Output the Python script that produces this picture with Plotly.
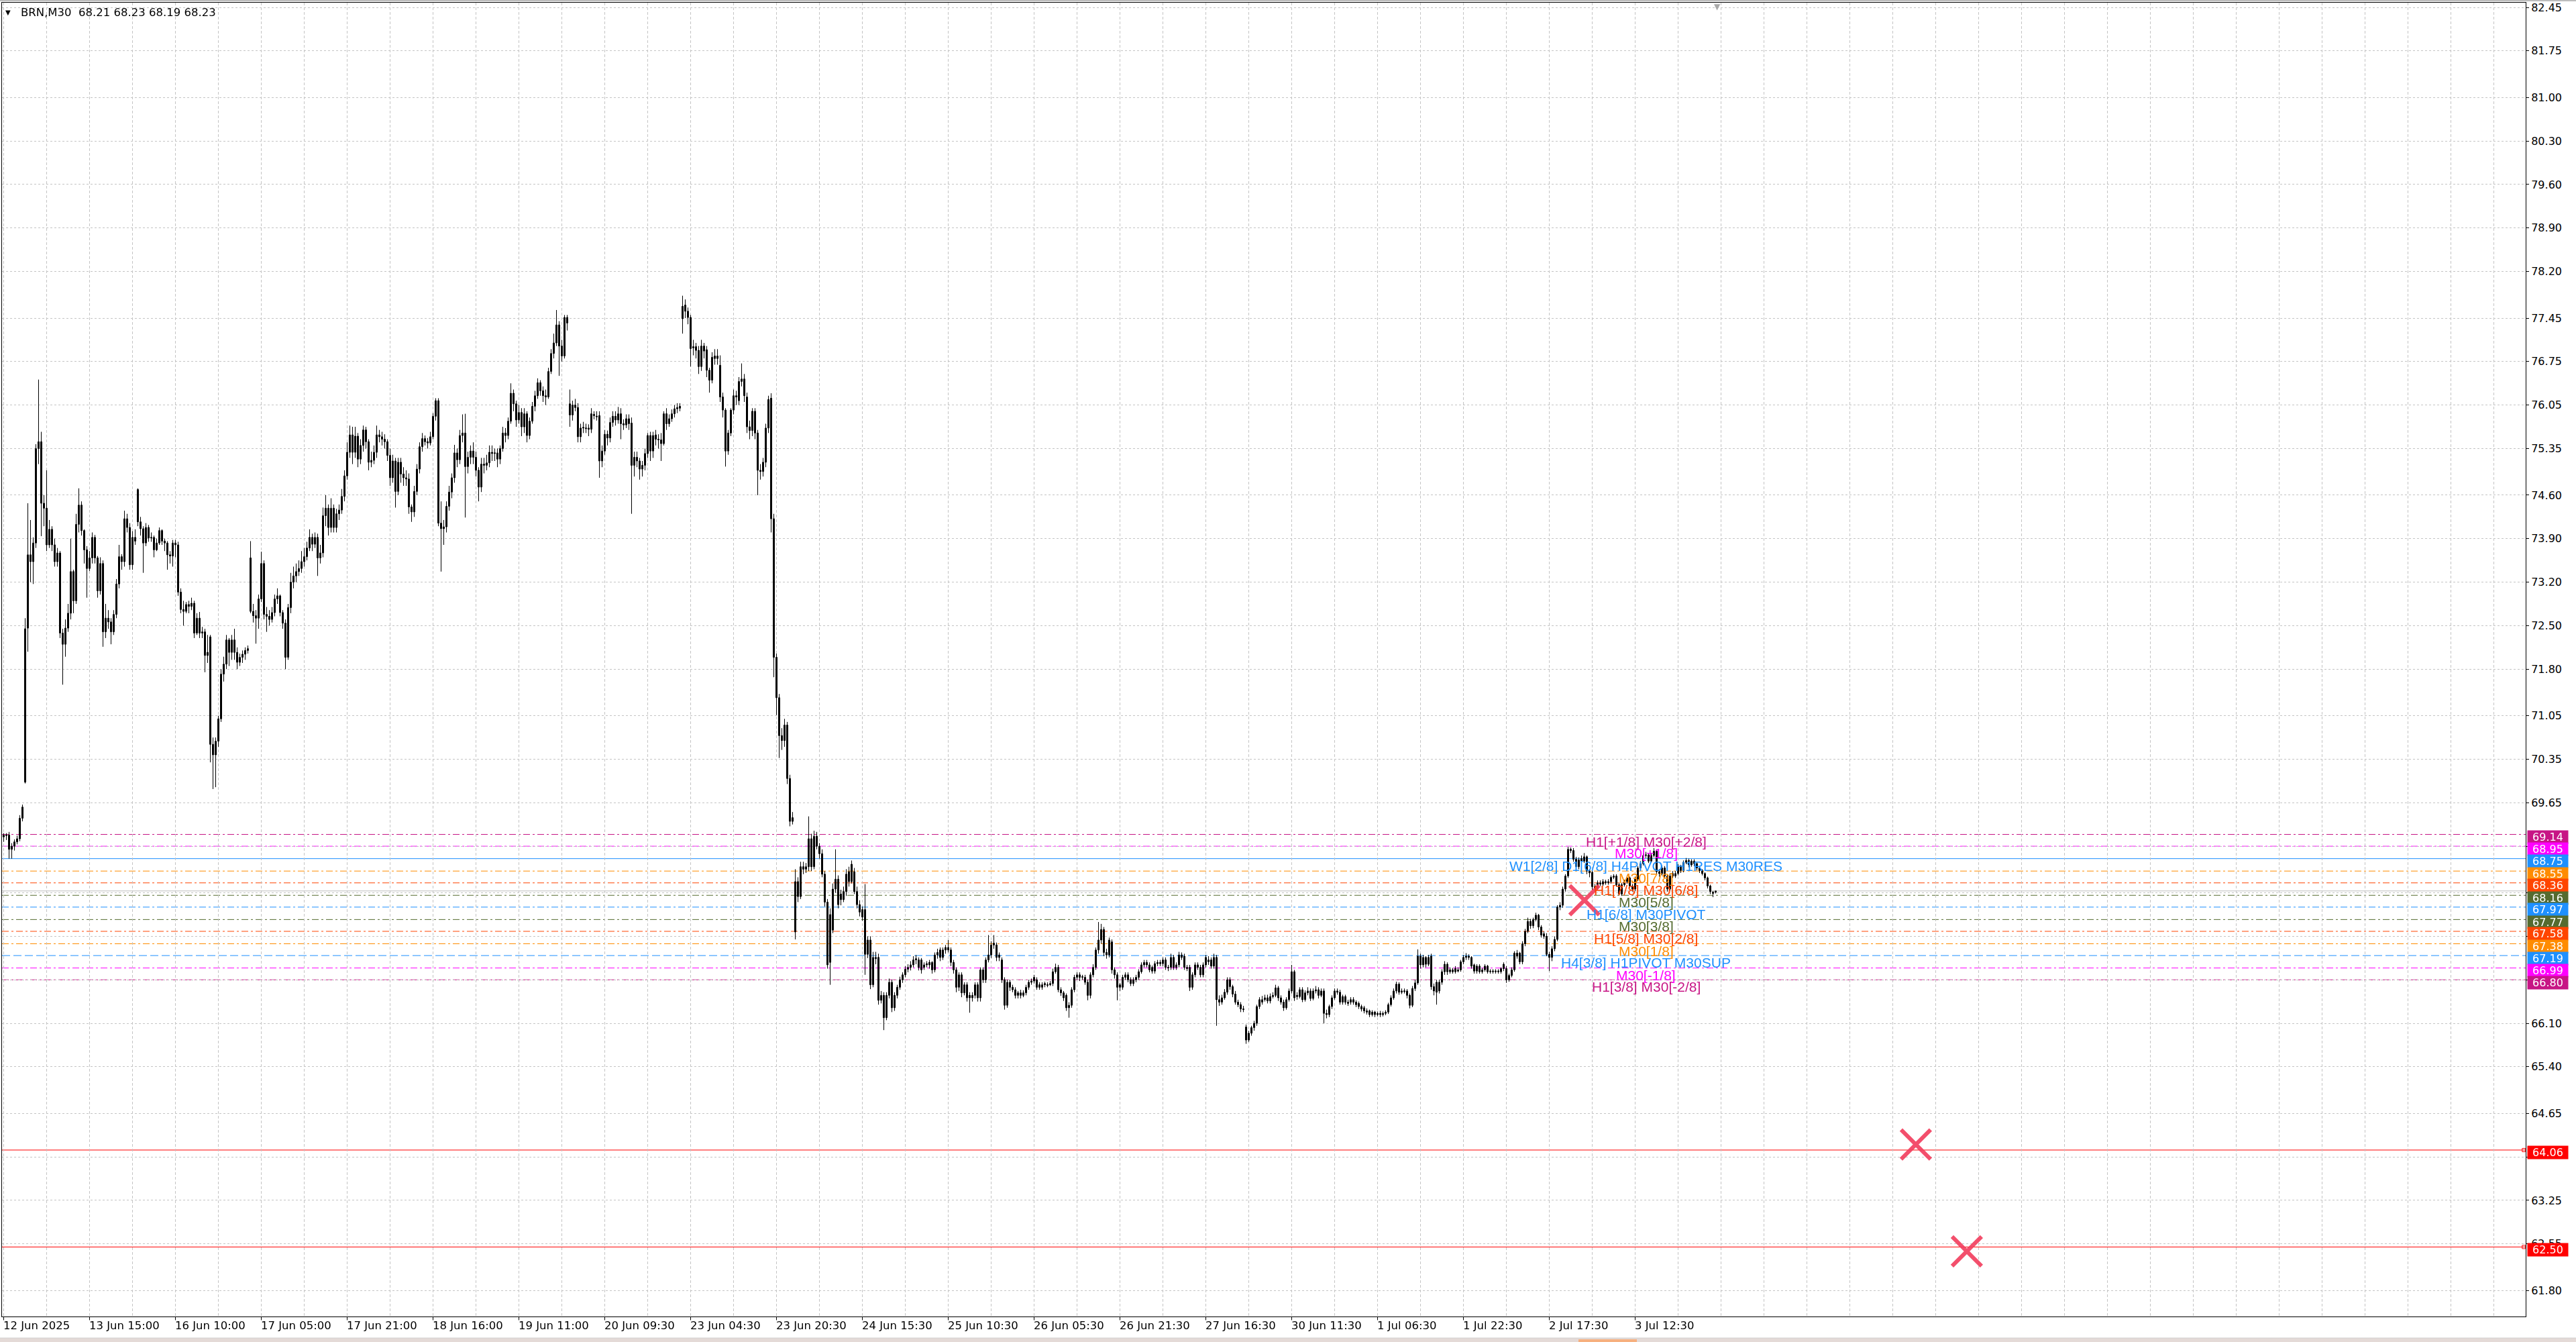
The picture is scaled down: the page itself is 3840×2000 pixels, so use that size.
import plotly.graph_objects as go

W, H = 3840, 2000
ML, MR, MT, MB = 3, 75, 4, 38

# ---------------- price data (BRN, M30), one entry per bar ----------------
open_px = [
69.10,69.13,69.13,68.90,68.95,69.02,69.07,69.40,69.98,72.46,
73.64,73.53,73.83,75.35,75.46,74.47,74.39,73.80,74.05,73.80,
73.53,73.67,72.38,72.20,72.46,72.70,73.37,72.90,74.13,74.44,
74.03,73.72,73.42,73.59,73.92,73.59,73.06,73.50,72.40,72.62,
72.56,72.40,72.68,73.17,73.61,73.53,74.22,74.08,73.48,73.92,
74.69,74.17,74.06,73.83,74.08,73.91,73.92,73.72,73.83,74.03,
73.86,73.83,73.64,73.62,73.83,73.80,73.04,72.76,72.73,72.84,
72.81,72.86,72.38,72.62,72.38,72.40,72.02,72.32,70.59,70.42,
70.64,71.00,71.72,71.88,72.27,72.07,72.27,72.07,71.91,71.99,
72.04,72.10,
73.59,72.73,72.66,72.62,72.93,73.50,72.68,72.65,72.60,72.71,
72.93,72.98,72.71,72.54,71.99,72.79,73.20,73.30,73.37,73.42,
73.53,73.61,73.75,73.92,73.81,73.92,73.59,73.67,74.27,74.39,
74.08,74.39,74.08,74.30,74.36,74.58,74.91,75.29,75.57,75.29,
75.55,75.18,75.40,75.65,75.46,75.13,75.16,75.29,75.57,75.54,
75.50,75.46,75.24,74.88,75.15,74.66,75.13,74.94,74.88,74.86,
74.41,74.33,74.66,75.02,75.38,75.51,75.46,75.44,75.54,75.87,
76.12,74.15,74.06,74.09,74.42,74.65,74.88,75.28,75.17,75.56,
75.60,75.06,75.21,75.31,75.21,75.00,74.73,75.10,75.08,75.12,
75.29,75.27,75.28,75.18,75.35,75.60,75.56,75.79,76.24,76.07,
75.81,75.93,75.70,75.91,75.56,75.79,76.03,76.20,76.41,76.28,
76.20,76.18,76.59,76.88,77.05,77.34,77.00,76.84,77.46,
76.07,75.89,76.05,76.01,75.54,75.69,75.68,75.68,75.66,75.90,
75.87,75.88,75.15,75.31,75.58,75.52,75.77,75.87,75.81,75.91,
75.75,75.73,75.83,75.76,75.08,75.21,75.15,75.02,75.08,75.27,
75.56,75.31,75.57,75.50,75.49,75.43,75.91,75.75,75.83,75.91,
75.99,76.03,
77.44,77.66,77.56,77.46,76.99,76.99,76.93,76.67,77.00,76.94,
76.61,76.45,76.84,76.80,76.69,76.18,75.97,75.31,75.60,75.97,
76.20,76.12,76.43,76.47,76.18,75.70,75.64,75.95,75.60,75.00,
74.98,75.13,75.68,76.16,74.22,71.99,71.34,70.73,70.65,70.90,
70.04,69.35,
67.57,68.38,68.14,68.62,68.58,68.62,69.07,68.62,69.11,68.95,
68.83,68.50,68.05,67.08,67.60,68.26,68.42,68.18,68.09,68.22,
68.54,68.38,68.54,68.22,68.01,67.93,67.93,67.21,67.44,66.72,
67.16,67.16,66.47,66.55,66.19,66.55,66.76,66.35,66.55,66.68,
66.80,66.88,66.97,67.00,67.04,67.12,67.12,67.12,67.00,67.04,
67.08,67.08,66.96,67.20,67.28,67.16,67.32,67.28,67.28,67.08,
66.96,66.68,66.88,66.59,66.72,66.55,66.51,66.55,66.72,66.51,
66.96,66.80,67.12,67.20,67.39,67.36,67.20,67.12,66.80,66.39,
66.76,66.68,66.64,66.59,66.55,66.55,66.59,66.68,66.76,66.78,
66.80,66.72,66.68,66.74,66.72,66.72,66.74,66.93,67.00,66.64,
66.59,66.55,66.35,66.39,66.64,66.84,66.88,66.84,66.84,66.76,
66.55,66.88,67.00,67.28,67.44,67.61,67.24,67.20,67.41,66.96,
66.88,66.72,66.68,66.84,66.88,66.80,66.74,66.80,66.84,66.93,
67.04,67.08,67.04,67.00,66.94,67.06,67.08,67.06,67.12,67.00,
67.00,67.16,67.04,67.04,67.20,67.18,67.00,67.00,66.68,66.88,
67.04,67.00,66.88,67.04,
67.09,67.12,67.02,67.16,66.48,66.44,66.51,66.60,66.80,66.69,
66.57,66.44,66.40,66.33,66.04,65.83,65.94,66.03,66.10,66.37,
66.44,66.48,66.51,66.46,66.53,66.55,66.67,66.51,66.44,66.35,
66.48,66.62,66.93,66.55,66.53,66.64,66.48,66.59,66.62,66.50,
66.62,66.64,66.55,66.62,66.26,66.24,66.37,66.51,66.62,66.60,
66.44,66.53,66.44,66.44,66.48,66.44,66.42,66.37,66.35,66.30,
66.30,66.24,66.28,66.24,66.26,66.24,66.26,66.28,66.40,66.51,
66.62,66.73,66.60,66.62,66.62,66.55,66.39,66.66,66.75,67.18,
67.04,67.16,67.05,67.18,66.69,66.76,66.62,66.76,66.93,67.05,
66.93,66.96,66.93,66.94,66.96,67.09,67.16,67.18,67.16,67.04,
66.94,67.02,66.93,66.96,67.02,66.93,66.94,66.93,66.94,66.93,
67.05,66.98,66.80,66.87,66.96,67.23,67.23,67.09,67.38,67.58,
67.74,67.67,67.77,67.84,67.65,67.54,67.50,67.21,67.16,67.30,
67.45,67.97,68.00,68.26,
68.47,68.90,68.88,68.74,68.62,68.75,68.71,68.78,68.55,68.53,
68.30,68.27,68.34,68.34,68.36,68.36,68.38,68.45,68.47,68.33,
68.18,68.33,68.38,68.44,68.31,68.26,68.42,68.60,68.67,68.80,
68.81,68.71,68.80,68.87,68.54,68.51,68.60,68.47,68.26,68.51,
68.47,68.51,68.62,68.56,68.69,68.72,68.65,68.71,68.67,68.60,
68.56,68.51,68.44,68.31,68.19,68.21,
]

close_px = [
69.13,69.12,68.90,68.95,69.02,69.07,69.40,69.58,72.45,73.64,
73.53,73.83,75.35,75.46,74.47,74.39,73.80,74.05,73.80,73.53,
73.67,72.38,72.20,72.46,72.70,73.37,72.90,74.13,74.44,74.03,
73.72,73.42,73.59,73.92,73.59,73.06,73.50,72.40,72.62,72.56,
72.40,72.68,73.17,73.61,73.53,74.22,74.08,73.48,73.92,73.86,
74.17,74.06,73.83,74.08,73.91,73.92,73.72,73.83,74.03,73.86,
73.83,73.64,73.62,73.83,73.80,73.04,72.76,72.73,72.84,72.81,
72.86,72.38,72.62,72.38,72.40,72.02,72.07,70.59,70.42,70.64,
71.00,71.72,71.88,72.27,72.07,72.27,72.07,71.91,71.99,72.04,
72.10,72.13,
72.73,72.66,72.62,72.93,73.50,72.68,72.65,72.60,72.71,72.93,
72.98,72.71,72.54,71.99,72.79,73.20,73.30,73.37,73.42,73.53,
73.61,73.75,73.92,73.81,73.92,73.59,73.67,74.27,74.39,74.08,
74.39,74.08,74.30,74.36,74.58,74.91,75.29,75.57,75.29,75.55,
75.18,75.40,75.65,75.46,75.13,75.16,75.29,75.57,75.54,75.50,
75.46,75.24,74.88,75.15,74.66,75.13,74.94,74.88,74.86,74.41,
74.33,74.66,75.02,75.38,75.51,75.46,75.44,75.54,75.87,76.12,
74.15,74.06,74.09,74.42,74.65,74.88,75.28,75.17,75.56,75.60,
75.06,75.21,75.31,75.21,75.00,74.73,75.10,75.08,75.12,75.29,
75.27,75.28,75.18,75.35,75.60,75.56,75.79,76.24,76.07,75.81,
75.93,75.70,75.91,75.56,75.79,76.03,76.20,76.41,76.28,76.20,
76.18,76.59,76.88,77.05,77.34,77.00,76.84,77.46,77.37,
75.89,76.05,76.01,75.54,75.68,75.68,75.67,75.66,75.91,75.88,
75.86,75.15,75.31,75.58,75.52,75.77,75.87,75.81,75.91,75.75,
75.73,75.83,75.75,75.08,75.21,75.15,75.02,75.08,75.27,75.56,
75.31,75.56,75.50,75.49,75.43,75.91,75.75,75.83,75.91,75.99,
76.01,76.00,
77.64,77.56,77.46,76.96,76.97,76.93,76.67,77.00,76.92,76.61,
76.45,76.82,76.80,76.84,76.18,75.97,75.31,75.60,75.97,76.20,
76.18,76.43,76.47,76.20,75.70,75.64,75.95,75.60,75.00,74.98,
75.13,75.68,76.14,74.22,71.99,71.34,70.73,70.65,70.90,70.04,
69.35,69.41,
68.38,68.14,68.62,68.58,68.62,69.07,68.62,69.11,68.95,68.83,
68.50,68.05,67.04,67.85,68.26,68.42,68.01,68.09,68.22,68.50,
68.38,68.66,68.22,68.01,67.89,67.81,67.21,67.44,66.72,67.16,
67.14,66.47,66.55,66.19,66.55,66.76,66.35,66.55,66.68,66.80,
66.88,66.97,67.00,67.04,67.12,67.14,67.00,66.96,67.04,67.06,
67.04,66.96,67.20,67.24,67.16,67.28,67.28,67.32,67.08,66.96,
66.68,66.88,66.59,66.72,66.51,66.51,66.55,66.72,66.51,66.96,
66.80,67.12,67.20,67.36,67.36,67.16,67.16,66.80,66.39,66.76,
66.68,66.64,66.55,66.55,66.59,66.59,66.68,66.76,66.78,66.84,
66.68,66.68,66.72,66.72,66.71,66.74,66.93,67.00,66.64,66.59,
66.51,66.35,66.39,66.64,66.84,66.88,66.84,66.85,66.76,66.55,
66.88,67.00,67.28,67.44,67.61,67.24,67.20,67.44,66.96,66.88,
66.68,66.68,66.84,66.88,66.80,66.74,66.80,66.84,66.93,67.04,
67.08,67.04,66.96,66.94,67.06,67.08,67.06,67.12,67.00,66.99,
67.16,67.00,67.00,67.20,67.16,67.00,66.98,66.68,66.88,67.04,
67.00,66.88,67.04,67.16,
67.12,67.02,67.16,66.48,66.44,66.51,66.60,66.80,66.69,66.57,
66.44,66.40,66.33,66.32,65.83,65.94,66.03,66.10,66.37,66.48,
66.48,66.51,66.46,66.53,66.55,66.67,66.51,66.44,66.35,66.48,
66.62,66.93,66.51,66.53,66.64,66.48,66.59,66.62,66.50,66.62,
66.64,66.55,66.62,66.26,66.24,66.37,66.51,66.62,66.60,66.44,
66.53,66.44,66.42,66.48,66.44,66.40,66.37,66.33,66.30,66.28,
66.24,66.28,66.24,66.26,66.24,66.26,66.28,66.40,66.51,66.62,
66.73,66.60,66.62,66.61,66.55,66.39,66.66,66.75,67.18,67.04,
67.16,67.05,67.16,66.69,66.62,66.60,66.76,66.93,67.05,66.93,
66.96,66.93,66.98,66.96,67.09,67.16,67.18,67.16,67.02,66.94,
67.02,66.93,66.96,67.02,66.93,66.94,66.93,66.94,66.93,66.98,
66.98,66.80,66.87,66.96,67.23,67.18,67.09,67.38,67.58,67.74,
67.67,67.77,67.84,67.65,67.52,67.50,67.21,67.16,67.30,67.45,
67.97,68.00,68.26,68.47,
68.90,68.88,68.74,68.62,68.73,68.71,68.78,68.55,68.52,68.30,
68.27,68.36,68.36,68.38,68.38,68.38,68.45,68.47,68.33,68.18,
68.33,68.38,68.44,68.31,68.26,68.42,68.60,68.67,68.80,68.81,
68.71,68.80,68.87,68.54,68.51,68.60,68.47,68.26,68.47,68.47,
68.51,68.62,68.56,68.69,68.72,68.65,68.71,68.67,68.60,68.56,
68.51,68.44,68.31,68.22,68.21,68.23,
]

high_px = [
69.16,69.16,69.18,69.00,69.06,69.12,69.45,69.62,72.62,74.47,
74.20,73.92,75.42,76.46,75.62,74.60,75.00,74.20,74.10,73.90,
73.75,73.70,72.45,72.60,72.85,73.90,73.40,74.30,74.71,74.50,
74.05,73.78,73.70,74.00,73.96,73.62,73.60,73.55,72.85,72.75,
72.62,72.75,73.25,73.80,73.65,74.35,74.30,74.15,74.02,74.05,
74.71,74.25,74.10,74.15,74.12,74.00,73.95,73.90,74.08,74.05,
73.90,73.86,73.70,73.88,73.88,73.85,73.10,72.90,72.88,72.90,
72.95,72.90,72.70,72.72,72.48,72.45,72.35,72.35,70.70,70.70,
71.05,71.80,72.00,72.35,72.30,72.35,72.45,72.15,72.05,72.10,
72.15,72.18,
73.86,72.85,72.75,73.00,73.69,73.55,72.80,72.75,72.80,73.00,
73.10,73.00,72.75,72.60,72.85,73.35,73.45,73.50,73.55,73.70,
73.75,73.85,74.05,73.98,74.00,73.98,73.80,74.40,74.60,74.45,
74.55,74.45,74.38,74.45,74.70,75.00,75.45,75.72,75.70,75.70,
75.60,75.50,75.72,75.70,75.50,75.30,75.40,75.72,75.65,75.62,
75.58,75.50,75.35,75.25,75.20,75.20,75.20,75.05,75.00,74.95,
74.45,74.75,75.10,75.45,75.60,75.56,75.52,75.62,75.92,76.16,
76.16,74.50,74.20,74.50,74.75,74.95,75.41,75.35,75.65,75.90,
75.91,75.30,75.40,75.45,75.30,75.05,75.20,75.20,75.25,75.40,
75.40,75.35,75.35,75.40,75.70,75.68,75.85,76.40,76.30,76.12,
76.05,76.00,76.00,75.95,75.85,76.10,76.28,76.48,76.45,76.35,
76.30,76.65,76.95,77.20,77.58,77.40,77.10,77.50,77.50,
76.30,76.12,76.15,76.08,75.75,75.78,75.75,75.74,76.00,75.95,
75.95,75.95,75.40,75.65,75.64,75.85,75.95,75.95,76.02,76.00,
75.82,75.90,75.90,75.85,75.30,75.30,75.20,75.15,75.35,75.60,
75.62,75.62,75.65,75.58,75.60,75.95,76.00,75.90,75.98,76.05,
76.08,76.08,
77.81,77.75,77.62,77.50,77.10,77.05,77.00,77.10,77.05,77.00,
76.65,76.90,76.95,76.95,76.85,76.25,76.00,75.65,76.00,76.30,
76.28,76.50,76.72,76.55,76.25,75.80,76.00,76.00,75.65,75.10,
75.20,75.75,76.20,76.24,74.30,72.05,71.40,70.85,71.00,70.95,
70.10,69.50,
68.58,68.45,68.70,68.70,68.68,69.43,69.15,69.20,69.18,69.00,
68.90,68.55,68.10,67.95,68.35,68.90,68.48,68.25,68.30,68.58,
68.62,68.72,68.60,68.30,68.08,67.98,68.34,67.50,67.50,67.25,
67.25,67.22,66.62,66.60,66.60,66.82,66.80,66.60,66.72,66.85,
66.92,67.02,67.05,67.10,67.18,67.20,67.16,67.15,67.08,67.10,
67.12,67.10,67.24,67.30,67.32,67.32,67.36,67.44,67.32,67.12,
67.00,66.92,66.92,66.76,66.76,66.60,66.60,66.76,66.76,67.00,
67.00,67.16,67.52,67.42,67.52,67.40,67.24,67.16,66.84,66.80,
66.80,66.72,66.68,66.62,66.64,66.63,66.72,66.80,66.82,66.88,
66.84,66.76,66.76,66.77,66.76,66.78,66.98,67.06,67.04,66.68,
66.62,66.58,66.44,66.68,66.88,66.92,66.92,66.88,66.88,66.80,
66.92,67.05,67.32,67.73,67.70,67.65,67.30,67.48,67.45,67.00,
66.92,66.75,66.88,66.92,66.92,66.84,66.84,66.88,66.97,67.08,
67.12,67.12,67.08,67.03,67.10,67.12,67.12,67.16,67.16,67.04,
67.22,67.20,67.08,67.25,67.24,67.22,67.04,67.04,66.92,67.08,
67.08,67.04,67.08,67.20,
67.18,67.16,67.22,67.20,66.55,66.56,66.65,66.84,66.84,66.72,
66.62,66.48,66.44,66.38,66.08,65.98,66.06,66.14,66.40,66.52,
66.54,66.56,66.56,66.58,66.60,66.72,66.70,66.55,66.48,66.52,
66.66,67.04,66.96,66.60,66.68,66.68,66.63,66.68,66.66,66.66,
66.70,66.68,66.66,66.66,66.32,66.40,66.55,66.66,66.66,66.64,
66.56,66.56,66.48,66.52,66.52,66.47,66.45,66.40,66.38,66.34,
66.32,66.31,66.30,66.29,66.30,66.29,66.31,66.43,66.55,66.66,
66.77,66.76,66.66,66.66,66.65,66.58,66.70,66.80,67.29,67.22,
67.20,67.18,67.20,67.22,66.74,66.80,66.80,66.97,67.10,67.08,
67.00,66.99,67.02,67.00,67.12,67.20,67.23,67.21,67.18,67.06,
67.05,67.05,66.99,67.05,67.04,66.97,66.97,66.97,66.97,67.00,
67.08,67.02,66.90,67.00,67.26,67.28,67.25,67.42,67.62,67.80,
67.78,67.80,67.88,67.86,67.68,67.58,67.55,67.25,67.34,67.50,
68.00,68.05,68.30,68.50,
68.94,68.93,68.92,68.78,68.77,68.80,68.84,68.80,68.58,68.56,
68.34,68.40,68.40,68.42,68.41,68.42,68.48,68.50,68.50,68.36,
68.36,68.41,68.48,68.46,68.34,68.46,68.63,68.71,68.83,68.86,
68.84,68.84,68.92,68.90,68.58,68.64,68.63,68.50,68.51,68.55,
68.55,68.66,68.65,68.72,68.76,68.75,68.74,68.74,68.69,68.63,
68.58,68.53,68.46,68.33,68.23,68.23,
]

low_px = [
69.02,69.05,68.75,68.75,68.88,68.98,69.03,69.35,69.96,72.08,
73.20,73.17,73.75,75.10,73.94,74.10,73.70,73.75,73.70,73.45,
73.45,72.30,71.55,72.00,72.40,72.60,72.70,72.85,74.00,73.95,
73.50,72.95,73.38,73.50,73.50,72.95,73.00,72.16,72.30,72.45,
72.20,72.35,72.62,73.10,73.40,73.45,74.00,73.40,73.40,73.80,
74.10,73.95,73.35,73.78,73.85,73.85,73.60,73.70,73.80,73.80,
73.70,73.40,73.50,73.45,73.60,72.98,72.70,72.50,72.70,72.70,
72.75,72.30,72.35,72.30,72.30,71.75,71.90,70.30,69.87,69.90,
70.55,70.95,71.60,71.80,71.85,71.95,71.95,71.80,71.85,71.90,
71.95,72.05,
72.70,72.55,72.21,72.45,72.88,72.60,72.40,72.50,72.55,72.65,
72.85,72.65,72.45,71.80,71.95,72.70,73.10,73.20,73.30,73.35,
73.45,73.55,73.70,73.70,73.75,73.30,73.50,73.60,74.10,73.95,
74.00,74.00,74.00,74.20,74.30,74.50,74.85,75.20,75.10,75.20,
75.05,75.10,75.30,75.35,75.00,75.05,75.10,75.20,75.45,75.40,
75.35,75.15,74.75,74.80,74.40,74.60,74.80,74.75,74.75,74.30,
74.17,74.25,74.60,74.95,75.30,75.40,75.35,75.40,75.50,75.80,
74.10,73.37,73.80,74.00,74.35,74.55,74.80,75.05,75.10,75.45,
74.24,74.95,75.10,75.10,74.90,74.50,74.65,74.95,75.00,75.05,
75.15,75.15,75.05,75.10,75.30,75.45,75.50,75.75,75.95,75.70,
75.75,75.55,75.60,75.45,75.50,75.75,75.95,76.15,76.20,76.10,
76.05,76.15,76.55,76.80,77.00,76.52,76.75,76.80,77.25,
75.70,75.80,75.95,75.45,75.45,75.60,75.60,75.55,75.60,75.82,
75.80,74.88,75.05,75.25,75.40,75.45,75.70,75.72,75.75,75.50,
75.65,75.68,75.65,74.30,74.90,75.05,74.85,74.90,75.00,75.20,
75.15,75.20,75.40,75.35,75.15,75.40,75.65,75.70,75.78,75.85,
75.92,75.95,
77.20,77.45,77.35,76.67,76.85,76.80,76.55,76.60,76.80,76.50,
76.25,76.40,76.70,76.70,76.10,75.85,75.06,75.25,75.55,75.90,
76.05,76.05,76.35,76.10,75.60,75.50,75.55,75.50,74.60,74.85,
74.90,75.05,75.60,74.00,71.67,71.06,70.37,70.50,70.55,69.95,
69.27,69.30,
67.45,68.05,68.10,68.50,68.52,68.55,68.55,68.58,68.90,68.75,
68.45,67.98,66.98,66.72,67.55,68.20,67.95,68.00,68.05,68.15,
68.30,68.35,68.18,67.95,67.82,67.75,66.88,67.15,66.65,66.68,
67.05,66.40,66.42,65.99,66.15,66.50,66.28,66.30,66.50,66.64,
66.75,66.84,66.92,66.95,67.00,67.05,66.95,66.90,66.96,67.00,
66.98,66.90,66.92,67.14,67.10,67.12,67.22,67.24,67.02,66.90,
66.60,66.62,66.52,66.55,66.45,66.27,66.45,66.50,66.45,66.45,
66.75,66.75,67.08,67.15,67.30,67.10,67.10,66.75,66.32,66.35,
66.62,66.60,66.50,66.50,66.50,66.52,66.55,66.64,66.72,66.74,
66.64,66.64,66.64,66.68,66.68,66.70,66.70,66.90,66.60,66.54,
66.46,66.30,66.19,66.35,66.60,66.80,66.78,66.80,66.72,66.47,
66.50,66.84,66.96,67.22,67.38,67.18,67.14,67.16,66.90,66.82,
66.47,66.62,66.64,66.80,66.76,66.70,66.70,66.76,66.80,66.90,
67.00,67.00,66.92,66.90,66.90,67.02,67.02,67.02,66.96,66.94,
66.96,66.96,66.96,67.00,67.12,66.96,66.94,66.62,66.64,66.84,
66.96,66.84,66.84,67.00,
67.04,66.98,66.98,66.06,66.38,66.40,66.48,66.56,66.64,66.52,
66.40,66.36,66.28,66.28,65.77,65.80,65.90,65.98,66.06,66.33,
66.40,66.45,66.42,66.42,66.50,66.52,66.46,66.40,66.30,66.32,
66.45,66.58,66.46,66.48,66.50,66.44,66.45,66.55,66.46,66.47,
66.58,66.50,66.52,66.10,66.18,66.20,66.33,66.48,66.56,66.40,
66.40,66.40,66.38,66.40,66.40,66.36,66.33,66.29,66.26,66.24,
66.20,66.21,66.20,66.21,66.20,66.21,66.23,66.25,66.37,66.48,
66.58,66.56,66.57,66.58,66.50,66.34,66.36,66.62,66.72,66.98,
67.00,67.00,67.02,66.64,66.55,66.40,66.58,66.72,66.88,66.88,
66.90,66.90,66.90,66.92,66.93,67.05,67.12,67.12,66.98,66.90,
66.90,66.90,66.90,66.93,66.90,66.90,66.90,66.90,66.90,66.90,
66.94,66.75,66.77,66.84,66.93,67.14,67.05,67.05,67.34,67.55,
67.62,67.63,67.74,67.60,67.48,67.46,67.18,66.94,67.10,67.26,
67.42,67.92,67.96,68.22,
68.44,68.84,68.70,68.58,68.58,68.66,68.68,68.50,68.45,68.25,
68.22,68.24,68.31,68.31,68.33,68.33,68.35,68.42,68.30,68.16,
68.15,68.30,68.35,68.28,68.22,68.23,68.39,68.57,68.64,68.76,
68.68,68.68,68.77,68.50,68.46,68.48,68.44,68.22,68.24,68.44,
68.44,68.48,68.52,68.53,68.66,68.61,68.62,68.63,68.56,68.52,
68.48,68.40,68.27,68.18,68.13,68.19,
]

# ---------------- axes ----------------
tick_bars = [0, 32, 64, 96, 128, 160, 192, 224, 256, 288,
             320, 352, 384, 416, 448, 480, 512, 544, 576, 608]
tick_text = ["12 Jun 2025", "13 Jun 15:00", "16 Jun 10:00", "17 Jun 05:00",
             "17 Jun 21:00", "18 Jun 16:00", "19 Jun 11:00", "20 Jun 09:30",
             "23 Jun 04:30", "23 Jun 20:30", "24 Jun 15:30", "25 Jun 10:30",
             "26 Jun 05:30", "26 Jun 21:30", "27 Jun 16:30", "30 Jun 11:30",
             "1 Jul 06:30", "1 Jul 22:30", "2 Jul 17:30", "3 Jul 12:30"]
y_tick_vals = [82.45, 81.75, 81.00, 80.30, 79.60, 78.90, 78.20, 77.45, 76.75,
               76.05, 75.35, 74.60, 73.90, 73.20, 72.50, 71.80, 71.05, 70.35,
               69.65, 68.95, 68.20, 67.50, 66.80, 66.10, 65.40, 64.65, 63.95,
               63.25, 62.55, 61.80]
# tick labels that sit under the coloured price boxes
y_tick_hidden = [68.95, 68.20, 67.50, 66.80, 63.95]

# ---------------- Murrey levels ----------------
level_vals = [69.14, 68.95, 68.75, 68.55, 68.36, 68.16, 67.97, 67.77,
              67.58, 67.38, 67.19, 66.99, 66.80]
level_colors = ["#C71585", "#FF00FF", "#1E90FF", "#FF8C00", "#FF4500",
                "#556B2F", "#1E90FF", "#556B2F", "#FF4500", "#FF8C00",
                "#1E90FF", "#FF00FF", "#C71585"]
level_styles = ["dashdot", "dashdot", "solid", "dashdot", "dashdot", "dashdot",
                "dashdot", "dashdot", "dashdot", "dashdot", "dash", "dashdot",
                "dashdot"]
level_names = ["H1[+1/8] M30[+2/8]", "M30[+1/8]",
               "W1[2/8] D1[6/8] H4PIVOT H1RES M30RES", "M30[7/8]",
               "H1[7/8] M30[6/8]", "M30[5/8]", "H1[6/8] M30PIVOT", "M30[3/8]",
               "H1[5/8] M30[2/8]", "M30[1/8]", "H4[3/8] H1PIVOT M30SUP",
               "M30[-1/8]", "H1[3/8] M30[-2/8]"]
level_text_bar = 612.1

stop_vals = [64.06, 62.50]
bid_price = 68.23

x_mark_bars = [589.1, 712.6, 731.6]
x_mark_prices = [68.08, 64.15, 62.43]

title_text = "BRN,M30\u00a0\u00a068.21 68.23 68.19 68.23"

# ---------------- build ----------------
n = len(close_px)
assert len(open_px) == n and len(high_px) == n and len(low_px) == n, \
    (len(open_px), len(high_px), len(low_px), n)
bars = list(range(n))

wick_x, wick_y = [], []
for i in bars:
    wick_x += [i, i, None]
    wick_y += [low_px[i], high_px[i], None]

up_x, up_b, up_h, dn_x, dn_b, dn_h = [], [], [], [], [], []
for i in bars:
    o, c = open_px[i], close_px[i]
    lo = min(o, c)
    hgt = max(abs(c - o), 0.012)
    if c >= o:
        up_x.append(i); up_b.append(lo); up_h.append(hgt)
    else:
        dn_x.append(i); dn_b.append(lo); dn_h.append(hgt)

FONT = "DejaVu Sans"
GRID = "#C4C4C4"

fig = go.Figure()
fig.add_trace(go.Scatter(x=wick_x, y=wick_y, mode="lines",
                         line=dict(color="black", width=1),
                         hoverinfo="skip", showlegend=False))
fig.add_trace(go.Bar(x=up_x, y=up_h, base=up_b, width=0.5,
                     marker=dict(color="white", line=dict(color="black", width=1)),
                     showlegend=False, hoverinfo="skip"))
fig.add_trace(go.Bar(x=dn_x, y=dn_h, base=dn_b, width=0.5,
                     marker=dict(color="black", line=dict(color="black", width=1)),
                     showlegend=False, hoverinfo="skip"))

# stop-line end markers
fig.add_trace(go.Scatter(x=[939.2] * len(stop_vals), y=stop_vals, mode="markers",
                         marker=dict(symbol="square-open", size=5,
                                     line=dict(color="#FF0000", width=1), color="#FF0000"),
                         showlegend=False, hoverinfo="skip", cliponaxis=False))

# X marks
fig.add_trace(go.Scatter(x=x_mark_bars, y=x_mark_prices, mode="markers",
                         marker=dict(symbol="x-thin", size=44, color="#F2405F",
                                     line=dict(color="#F2405F", width=6)),
                         opacity=0.92, showlegend=False, hoverinfo="skip"))

shapes = []
dash_map = {"dashdot": "10px,4px,3px,4px", "dash": "12px,5px", "solid": "solid"}
for v, col, st in zip(level_vals, level_colors, level_styles):
    shapes.append(dict(type="line", xref="paper", yref="y", x0=0, x1=1, y0=v, y1=v,
                       line=dict(color=col, width=1, dash=dash_map[st]), layer="between"))
# bid line
shapes.append(dict(type="line", xref="paper", yref="y", x0=0, x1=1, y0=bid_price, y1=bid_price,
                   line=dict(color="#BDBDBD", width=1), layer="between"))
for v in stop_vals:
    shapes.append(dict(type="line", xref="paper", yref="y", x0=0, x1=1, y0=v, y1=v,
                       line=dict(color="#FF0000", width=1), layer="between"))
# x-axis tick marks at labels
for b in tick_bars:
    shapes.append(dict(type="line", xref="x", yref="paper", x0=b, x1=b, y0=0, y1=-0.0028,
                       line=dict(color="black", width=1)))

PH = H - MT - MB
PW = W - ML - MR
def py(yfull):
    return (H - MB - yfull) / PH
def px(xfull):
    return (xfull - ML) / PW

# bottom window strip
shapes.append(dict(type="rect", xref="paper", yref="paper", x0=px(0), x1=px(W), y0=py(1994), y1=py(2000),
                   fillcolor="#E4DAD7", line=dict(width=0), layer="above"))
shapes.append(dict(type="line", xref="paper", yref="paper", x0=px(0), x1=px(W), y0=py(1994), y1=py(1994),
                   line=dict(color="#D0D0D0", width=1)))
shapes.append(dict(type="rect", xref="paper", yref="paper", x0=px(2353), x1=px(2440), y0=py(1996), y1=py(2000),
                   fillcolor="#F6B07F", line=dict(width=0)))
# top window edge
shapes.append(dict(type="line", xref="paper", yref="paper", x0=px(0), x1=px(W), y0=py(1), y1=py(1),
                   line=dict(color="#BDBDBD", width=2)))

annotations = []
# murrey labels on chart
for v, col, name in zip(level_vals, level_colors, level_names):
    annotations.append(dict(x=level_text_bar, y=v, xref="x", yref="y", text=name,
                            showarrow=False, xanchor="center", yanchor="top", yshift=3,
                            font=dict(family="Liberation Sans", size=21, color=col)))
# right price boxes
for v, col in zip(level_vals + stop_vals, level_colors + ["#FF0000", "#FF0000"]):
    annotations.append(dict(x=1, y=v, xref="paper", yref="y", text=f"{v:.2f}",
                            showarrow=False, xanchor="left", yanchor="middle",
                            xshift=2, yshift=-4,
                            bgcolor=col, width=60, height=19, borderpad=0, align="center",
                            font=dict(family=FONT, size=16, color="white")))
# x-axis labels (left aligned at their ticks, MT4 style)
for b, t in zip(tick_bars, tick_text):
    annotations.append(dict(x=b, y=0, xref="x", yref="paper", text=t, showarrow=False,
                            xanchor="left", yanchor="top", xshift=-3, yshift=-2,
                            font=dict(family=FONT, size=16.5, color="black")))
# title
annotations.append(dict(x=0, y=1, xref="paper", yref="paper", text="\u25BC", showarrow=False,
                        xanchor="left", yanchor="top", xshift=3, yshift=-7,
                        font=dict(family=FONT, size=10, color="black")))
annotations.append(dict(x=0, y=1, xref="paper", yref="paper", text=title_text, showarrow=False,
                        xanchor="left", yanchor="top", xshift=26, yshift=-3,
                        font=dict(family=FONT, size=16.5, color="black")))
# chart-shift marker
annotations.append(dict(x=n - 0.5, y=1, xref="x", yref="paper", text="\u25BC", showarrow=False,
                        xanchor="center", yanchor="top", yshift=3,
                        font=dict(family=FONT, size=12, color="#A8A8A8")))

fig.update_layout(
    width=W, height=H,
    margin=dict(l=ML, r=MR, t=MT, b=MB, pad=0),
    paper_bgcolor="white", plot_bgcolor="white",
    barmode="overlay", showlegend=False,
    font=dict(family=FONT, color="black"),
    shapes=shapes, annotations=annotations,
    xaxis=dict(range=[-0.625, 939.875], tickmode="linear", tick0=0, dtick=32,
               showticklabels=False, ticks="", showgrid=True, gridcolor=GRID,
               griddash="4px,3px", gridwidth=1, zeroline=False,
               showline=True, linecolor="black", linewidth=1, mirror=True,
               minor=dict(tickmode="linear", tick0=16, dtick=32, showgrid=True,
                          gridcolor=GRID, griddash="4px,3px", gridwidth=1, ticks=""),
               fixedrange=True),
    yaxis=dict(range=[61.381, 82.526], side="right", tickmode="array",
               tickvals=y_tick_vals,
               ticktext=["" if v in y_tick_hidden else f"{v:.2f}" for v in y_tick_vals],
               ticks="outside", ticklen=4, tickcolor="black",
               tickfont=dict(family=FONT, size=16, color="black"),
               showgrid=True, gridcolor=GRID, griddash="3px,3px", gridwidth=1,
               zeroline=False, showline=True, linecolor="black", linewidth=1,
               mirror=True, fixedrange=True),
)

fig.write_html("out.html", include_plotlyjs=True, full_html=True,
               config={"displayModeBar": False},
               post_script="document.body.style.margin='0';document.body.style.overflow='hidden';")
